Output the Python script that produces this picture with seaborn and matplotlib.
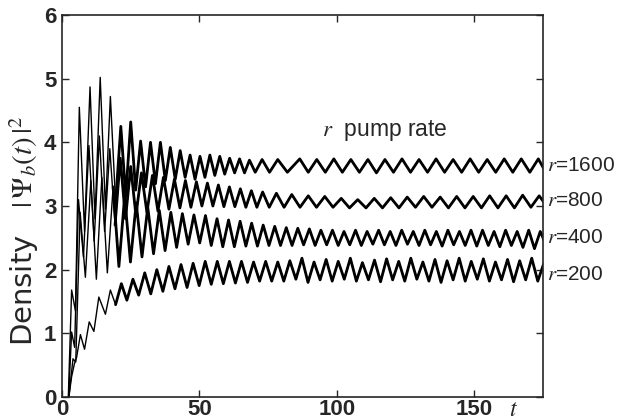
import matplotlib
matplotlib.use("Agg")
import matplotlib.pyplot as plt
import seaborn as sns
import pandas as pd

# values (turning points of each trace)
t_1600 = [2.3, 3.5, 4.9, 6.3, 8.2, 10.2, 12.0, 13.9, 15.8, 17.6, 19.5, 21.4, 23.2, 25.0, 26.8, 28.6,
          30.4, 32.2, 34.0, 35.8, 37.6, 39.4, 41.2, 43.0, 44.8, 46.6, 48.4, 50.2, 52.0, 53.8, 55.6, 57.4,
          59.2, 61.0, 62.8, 64.6, 66.4, 68.2, 70.3, 72.8, 75.5, 78.5, 82.0, 86.5, 89.6, 92.7, 95.8, 98.9,
          102.0, 105.1, 108.2, 111.3, 114.4, 117.5, 120.6, 123.7, 126.8, 129.9, 133.0, 136.1, 139.2, 142.3,
          145.4, 148.5, 151.6, 154.7, 157.8, 160.9, 164.0, 167.1, 170.2, 173.3, 175.5]
dens_1600 = [0.0, 1.68, 1.35, 4.55, 2.6, 4.87, 2.8, 5.02, 2.95, 4.72, 3.05, 4.25, 3.15, 4.32, 3.25, 4.02,
             3.3, 4.0, 3.35, 4.0, 3.4, 3.92, 3.42, 3.87, 3.45, 3.8, 3.42, 3.78, 3.45, 3.8, 3.48, 3.78,
             3.5, 3.75, 3.52, 3.74, 3.52, 3.72, 3.53, 3.73, 3.53, 3.73, 3.53, 3.74, 3.53, 3.73, 3.53, 3.74,
             3.53, 3.73, 3.53, 3.73, 3.52, 3.73, 3.53, 3.74, 3.53, 3.73, 3.53, 3.74, 3.53, 3.73,
             3.53, 3.74, 3.53, 3.73, 3.53, 3.74, 3.53, 3.74, 3.53, 3.74, 3.57]

t_800 = [2.4, 3.5, 4.6, 6.0, 7.8, 9.8, 11.7, 13.6, 15.5, 17.4, 19.3, 21.2, 23.1, 25.0, 26.9, 28.9,
         30.9, 32.9, 34.9, 36.9, 38.9, 40.9, 42.9, 44.9, 46.9, 48.9, 50.9, 52.9, 54.9, 56.9, 58.9, 60.9,
         62.9, 64.9, 66.9, 68.9, 70.9, 73.0, 75.4, 78.0, 80.8, 83.6, 86.6, 89.6, 92.6, 95.6, 98.6, 101.6,
         104.6, 107.6, 110.6, 113.6, 116.6, 119.6, 122.6, 125.6, 128.6, 131.6, 134.6, 137.6, 140.6, 143.6,
         146.6, 149.6, 152.6, 155.6, 158.6, 161.6, 164.6, 167.6, 170.6, 173.6, 175.5]
dens_800 = [0.0, 1.02, 0.78, 3.1, 2.2, 3.95, 2.45, 4.1, 2.6, 3.9, 2.7, 3.75, 2.8, 3.62, 2.85, 3.52,
            2.9, 3.48, 2.92, 3.45, 2.95, 3.42, 2.97, 3.4, 2.98, 3.38, 3.0, 3.36, 3.0, 3.33, 2.99, 3.3,
            2.99, 3.27, 2.98, 3.24, 2.98, 3.22, 2.98, 3.2, 2.98, 3.18, 2.98, 3.16, 2.98, 3.15, 2.98, 3.12,
            2.97, 3.1, 2.97, 3.12, 2.97, 3.13, 2.97, 3.14, 2.98, 3.15, 2.98, 3.14, 2.97, 3.15,
            2.97, 3.15, 2.97, 3.16, 2.97, 3.16, 2.97, 3.17, 2.98, 3.16, 3.05]

t_400 = [2.5, 4.0, 5.0, 6.6, 8.5, 10.5, 12.5, 14.5, 16.5, 18.6, 20.7, 22.8, 24.9, 27.0, 29.1, 31.2,
         33.3, 35.4, 37.5, 39.6, 41.7, 43.8, 45.9, 48.0, 50.1, 52.2, 54.3, 56.4, 58.5, 60.6, 62.7, 64.8,
         66.9, 69.0, 71.1, 73.2, 75.3, 77.4, 79.5, 81.6, 83.7, 85.8, 87.9, 90.0, 92.1, 94.2, 96.3, 98.4,
         100.5, 102.6, 104.7, 106.8, 108.9, 111.0, 113.1, 115.2, 117.3, 119.4, 121.5, 123.6, 125.7, 127.8,
         129.9, 132.0, 134.1, 136.2, 138.3, 140.4, 142.5, 144.6, 146.7, 148.8, 150.9, 153.0, 155.1, 157.2,
         159.3, 161.4, 163.5, 165.6, 167.7, 169.8, 171.9, 174.0, 175.5]
dens_400 = [0.0, 0.6, 0.55, 2.9, 1.88, 3.4, 1.85, 3.45, 1.95, 3.3, 2.05, 3.15, 2.12, 3.05, 2.2, 2.98,
            2.25, 2.93, 2.3, 2.9, 2.35, 2.88, 2.4, 2.86, 2.42, 2.85, 2.38, 2.8, 2.36, 2.78, 2.36, 2.76,
            2.37, 2.73, 2.37, 2.7, 2.38, 2.68, 2.38, 2.66, 2.38, 2.65, 2.39, 2.64, 2.38, 2.62, 2.39, 2.62,
            2.38, 2.6, 2.39, 2.62, 2.38, 2.6, 2.4, 2.62, 2.39, 2.6, 2.38, 2.62, 2.4, 2.6,
            2.38, 2.62, 2.39, 2.6, 2.37, 2.62, 2.39, 2.6, 2.38, 2.62, 2.37, 2.62, 2.38, 2.6,
            2.36, 2.62, 2.38, 2.6, 2.35, 2.62, 2.33, 2.6, 2.45]

t_200 = [2.5, 3.5, 4.5, 5.3, 6.7, 8.2, 9.9, 11.6, 13.4, 15.8, 17.6, 19.5, 21.6, 23.6, 25.8, 27.9,
         30.1, 32.3, 34.5, 36.7, 38.9, 41.1, 43.3, 45.5, 47.7, 49.9, 52.1, 54.3, 56.5, 58.7, 60.9, 63.1,
         65.3, 67.5, 69.7, 71.9, 74.1, 76.3, 78.5, 80.7, 82.9, 85.1, 87.3, 89.5, 91.7, 93.9, 96.1, 98.3,
         100.5, 102.7, 104.9, 107.1, 109.3, 111.5, 113.7, 115.9, 118.1, 120.3, 122.5, 124.7, 126.9, 129.1,
         131.3, 133.5, 135.7, 137.9, 140.1, 142.3, 144.5, 146.7, 148.9, 151.1, 153.3, 155.5, 157.7, 159.9,
         162.1, 164.3, 166.5, 168.7, 170.9, 173.1, 175.3]
dens_200 = [0.0, 0.32, 0.52, 0.62, 0.98, 0.75, 1.18, 1.03, 1.57, 1.3, 1.68, 1.45, 1.78, 1.52, 1.85, 1.6,
            1.95, 1.62, 2.0, 1.66, 2.05, 1.7, 2.08, 1.72, 2.1, 1.75, 2.13, 1.77, 2.13, 1.78, 2.13, 1.79,
            2.13, 1.8, 2.12, 1.82, 2.13, 1.82, 2.12, 1.82, 2.14, 1.85, 2.18, 1.8, 2.12, 1.84, 2.16, 1.82,
            2.13, 1.85, 2.18, 1.82, 2.11, 1.84, 2.15, 1.81, 2.17, 1.84, 2.13, 1.82, 2.18, 1.85,
            2.12, 1.82, 2.16, 1.8, 2.14, 1.84, 2.18, 1.82, 2.13, 1.85, 2.17, 1.82, 2.12, 1.84,
            2.16, 1.81, 2.14, 1.84, 2.18, 1.82, 2.1]

pump_rates = [1600, 800, 400, 200]
traces = [(t_1600, dens_1600), (t_800, dens_800), (t_400, dens_400), (t_200, dens_200)]

sns.set_style("ticks")
plt.rcParams["font.family"] = ["Liberation Sans", "DejaVu Sans"]
plt.rcParams["mathtext.fontset"] = "stix"

fig = plt.figure(figsize=(6.2, 4.2), dpi=100)
ax = fig.add_axes([62 / 620, 23 / 420, 481 / 620, 382 / 420])

for r, (t, d) in zip(pump_rates, traces):
    df = pd.DataFrame({"t": t, "density": d})
    sns.lineplot(data=df, x="t", y="density", color="black", lw=1.0,
                 sort=False, estimator=None, ax=ax)
    # the settled part of each trace is drawn heavier (fine ripple in the original)
    late = df[df["t"] >= 18]
    sns.lineplot(data=late, x="t", y="density", color="black", lw=2.0,
                 sort=False, estimator=None, ax=ax)

ax.set_xlim(0, 175)
ax.set_ylim(0, 6)
ax.set_xticks([0, 50, 100, 150])
ax.set_yticks([0, 1, 2, 3, 4, 5, 6])
ax.tick_params(direction="in", top=True, right=True, length=5, width=1,
               labelsize=16)
ax.tick_params(axis="x", pad=1.5)
ax.tick_params(axis="y", pad=4)
for lbl in ax.get_xticklabels() + ax.get_yticklabels():
    lbl.set_fontweight("bold")
for sp in ax.spines.values():
    sp.set_linewidth(1.2)

ax.set_xlabel("")
ax.set_ylabel(r"Density   $|\,\Psi_b(t)\,|^2$", fontsize=21,
              family=["DejaVu Sans"])
ax.yaxis.set_label_coords(-0.043, 0.435)
ax.text(162.5, -0.3, r"$t$", fontsize=17, va="baseline", ha="left")

ax.text(94.5, 4.18, r"$r$  pump rate", fontsize=16.5, va="center")
label_y = {1600: 3.64, 800: 3.09, 400: 2.51, 200: 1.92}
for r in pump_rates:
    ax.text(176.4, label_y[r], r"$r$=" + str(r), fontsize=15, va="center",
            clip_on=False)

fig.savefig("out.png", dpi=100)
